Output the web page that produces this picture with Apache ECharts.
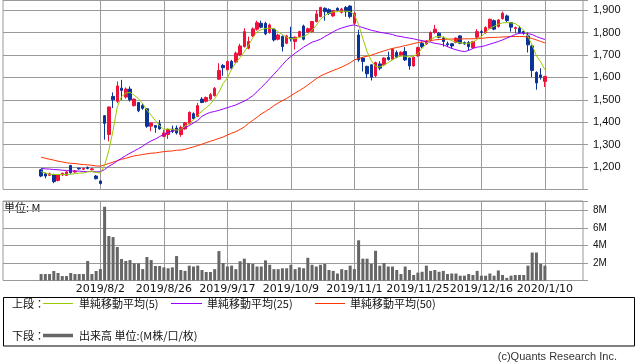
<!DOCTYPE html>
<html><head><meta charset="utf-8">
<script src="https://cdn.jsdelivr.net/npm/echarts@6/dist/echarts.min.js"></script>
<style>html,body{margin:0;padding:0;background:#fff}#c{width:638px;height:362px}</style>
</head><body><div id="c"></div>
<script>
const dates = ['2019/7/12','2019/7/16','2019/7/17','2019/7/18','2019/7/19','2019/7/22','2019/7/23','2019/7/24','2019/7/25','2019/7/26','2019/7/29','2019/7/30','2019/7/31','2019/8/1','2019/8/2','2019/8/5','2019/8/6','2019/8/7','2019/8/8','2019/8/9','2019/8/13','2019/8/14','2019/8/15','2019/8/16','2019/8/19','2019/8/20','2019/8/21','2019/8/22','2019/8/23','2019/8/26','2019/8/27','2019/8/28','2019/8/29','2019/8/30','2019/9/2','2019/9/3','2019/9/4','2019/9/5','2019/9/6','2019/9/9','2019/9/10','2019/9/11','2019/9/12','2019/9/13','2019/9/17','2019/9/18','2019/9/19','2019/9/20','2019/9/24','2019/9/25','2019/9/26','2019/9/27','2019/9/30','2019/10/1','2019/10/2','2019/10/3','2019/10/4','2019/10/7','2019/10/8','2019/10/9','2019/10/10','2019/10/11','2019/10/15','2019/10/16','2019/10/17','2019/10/18','2019/10/21','2019/10/23','2019/10/24','2019/10/25','2019/10/28','2019/10/29','2019/10/30','2019/10/31','2019/11/1','2019/11/5','2019/11/6','2019/11/7','2019/11/8','2019/11/11','2019/11/12','2019/11/13','2019/11/14','2019/11/15','2019/11/18','2019/11/19','2019/11/20','2019/11/21','2019/11/22','2019/11/25','2019/11/26','2019/11/27','2019/11/28','2019/11/29','2019/12/2','2019/12/3','2019/12/4','2019/12/5','2019/12/6','2019/12/9','2019/12/10','2019/12/11','2019/12/12','2019/12/13','2019/12/16','2019/12/17','2019/12/18','2019/12/19','2019/12/20','2019/12/23','2019/12/24','2019/12/25','2019/12/26','2019/12/27','2019/12/30','2020/1/6','2020/1/7','2020/1/8','2020/1/9','2020/1/10'];

const labelDates = ['2019/8/2','2019/8/26','2019/9/17','2019/10/9','2019/11/1','2019/11/25','2019/12/16','2020/1/10'];

const opens  = [1188,1170,1163,1167,1140,1165,1163,1207,1178,1195, 1190,1198,1188,1160,1138,1429,1345,1515,1493,1552, 1512,1548,1474,1488,1475,1460,1382,1385,1393,1337, 1345,1370,1374,1345,1370,1394,1438,1426,1503,1493, 1503,1518,1592,1653,1634,1671,1668,1700,1737,1730, 1785,1815,1841,1841,1800,1815,1770,1782,1752,1778, 1760,1782,1829,1802,1804,1849,1871,1908,1902,1874, 1908,1890,1912,1918,1841,1789,1686,1649,1656,1607, 1660,1656,1689,1681,1711,1700,1715,1686,1651,1696, 1752,1750,1764,1800,1797,1775,1750,1750,1756,1785, 1755,1755,1733,1779,1804,1800,1819,1853,1827,1862, 1874,1844,1818,1819,1805,1785,1740,1622,1611,1582];
const closes = [1160,1160,1170,1135,1165,1172,1178,1175,1183,1192, 1194,1194,1192,1148,1127,1395,1468,1500,1562,1542, 1548,1500,1503,1451,1462,1382,1397,1377,1370,1352, 1367,1359,1352,1377,1397,1444,1416,1474,1488,1510, 1523,1551,1631,1643,1671,1641,1708,1740,1804,1760, 1816,1844,1824,1794,1834,1767,1789,1737,1785,1772, 1779,1804,1770,1817,1849,1883,1912,1893,1885,1897, 1900,1905,1893,1871,1886,1678,1671,1616,1601,1666, 1641,1686,1680,1726,1690,1712,1678,1651,1690,1733, 1737,1762,1800,1815,1779,1760,1745,1740,1775,1752, 1749,1737,1760,1804,1800,1822,1859,1815,1856,1886, 1853,1824,1822,1800,1797,1745,1631,1575,1600,1604];
const lows   = [1155,1150,1160,1128,1136,1160,1160,1170,1175,1188, 1186,1190,1185,1145,1122,1322,1315,1463,1485,1500, 1505,1492,1470,1445,1455,1375,1360,1353,1367,1333, 1325,1352,1345,1335,1367,1390,1412,1422,1485,1488, 1500,1515,1588,1607,1630,1634,1663,1695,1734,1725, 1780,1808,1819,1788,1795,1760,1765,1715,1748,1760, 1724,1778,1765,1798,1800,1845,1868,1853,1878,1870, 1895,1885,1870,1863,1835,1670,1626,1597,1586,1600, 1632,1650,1675,1678,1685,1695,1673,1634,1648,1692, 1730,1745,1760,1795,1774,1737,1735,1728,1752,1748, 1745,1720,1728,1775,1785,1795,1815,1810,1822,1858, 1846,1804,1795,1795,1790,1711,1601,1545,1590,1557];
const highs  = [1192,1175,1175,1170,1168,1175,1182,1210,1187,1198, 1198,1203,1196,1165,1140,1432,1470,1533,1582,1589, 1555,1560,1506,1490,1483,1463,1398,1388,1410,1365, 1372,1385,1385,1385,1400,1448,1444,1486,1512,1515, 1530,1557,1663,1660,1675,1678,1715,1750,1819,1782, 1823,1853,1853,1848,1840,1820,1795,1787,1790,1826, 1782,1808,1835,1822,1852,1900,1915,1912,1908,1900, 1912,1910,1918,1922,1890,1812,1690,1652,1658,1670, 1672,1690,1715,1730,1720,1716,1735,1690,1693,1737, 1760,1766,1805,1834,1802,1782,1760,1752,1778,1788, 1760,1762,1763,1815,1812,1828,1862,1858,1860,1893, 1880,1847,1826,1830,1808,1800,1745,1627,1641,1607];

const ma5  = [1180,1174,1167,1167,1167,1167,1167,1168,1171,1173, 1174,1179,1180,1176,1173,1208,1274,1364,1468,1514, 1530,1533,1520,1505,1483,1454,1431,1407,1383,1368, 1370,1367,1365,1367,1382,1394,1411,1431,1450,1465, 1481,1505,1534,1573,1598,1637,1665,1689,1714,1743, 1776,1803,1813,1818,1819,1818,1803,1791,1779,1772, 1773,1778,1782,1792,1810,1832,1859,1875,1886,1892, 1893,1895,1895,1893,1880,1835,1773,1715,1674,1649, 1646,1655,1666,1678,1690,1695,1695,1690,1696,1705, 1730,1751,1769,1780,1783,1779,1772,1764,1757,1754, 1752,1752,1758,1769,1783,1800,1819,1828,1837,1843, 1844,1843,1840,1826,1810,1782,1743,1696,1669,1634];
const ma25 = [1194,1192,1191,1189,1188,1186,1185,1183,1182,1182, 1180,1180,1180,1179,1179,1189,1204,1214,1228,1239, 1251,1262,1272,1282,1293,1306,1317,1325,1336,1346, 1354,1360,1365,1370,1376,1385,1397,1408,1426,1437, 1444,1448,1453,1459,1465,1471,1477,1486,1494,1505, 1518,1536,1555,1573,1594,1614,1635,1656,1677,1693, 1708,1721,1735,1746,1757,1763,1770,1782,1792,1803, 1813,1820,1826,1831,1834,1828,1822,1816,1810,1806, 1801,1798,1795,1791,1785,1782,1778,1775,1772,1767, 1764,1760,1757,1752,1749,1745,1737,1729,1723,1718, 1715,1720,1729,1735,1737,1742,1748,1754,1760,1767, 1775,1783,1791,1797,1797,1795,1791,1782,1775,1769];
const ma50 = [1244,1239,1235,1231,1226,1223,1219,1217,1216,1213, 1211,1210,1208,1205,1204,1210,1216,1222,1228,1235, 1239,1245,1250,1253,1256,1259,1262,1263,1266,1269, 1271,1272,1275,1276,1279,1285,1290,1296,1302,1309, 1315,1321,1328,1334,1343,1351,1358,1368,1379,1395, 1408,1422,1437,1448,1460,1474,1486,1496,1506,1518, 1530,1541,1553,1566,1580,1594,1606,1615,1623,1631, 1638,1646,1655,1665,1678,1684,1690,1694,1699,1706, 1712,1718,1724,1729,1733,1737,1742,1746,1751,1755, 1758,1761,1764,1767,1769,1770,1770,1771,1771,1771, 1772,1772,1772,1773,1774,1776,1778,1778,1779,1780, 1781,1782,1782,1782,1782,1779,1773,1767,1760,1754];

const volumes = [0.74,0.74,0.74,1.09,0.86,0.51,0.51,0.86,0.74,0.74, 0.74,2.23,0.74,1.09,1.31,8.44,5.09,4.97,3.83,2.46, 2.23,2.34,1.96,1.96,1.31,2.69,2.34,1.66,1.66,1.5, 1.4,1.5,2.8,1.2,1.1,1.7,1.6,1.7,1.2,0.97, 0.97,1.3,3.37,2.0,1.6,1.7,1.3,2.2,2.5,2.0, 1.9,1.6,1.6,2.3,1.8,1.3,1.3,1.4,1.4,1.8, 1.3,1.5,1.4,2.6,1.8,1.6,1.8,1.9,1.2,1.1, 0.8,1.3,1.2,1.7,1.3,4.6,2.5,2.5,1.9,3.4, 1.7,2.0,1.6,1.6,1.2,0.74,1.6,1.2,0.63,0.9, 1.0,1.7,1.1,1.2,1.0,1.1,0.74,0.8,0.8,0.55, 0.55,0.74,0.63,1.1,0.55,0.55,0.8,0.55,1.15,0.63, 0.3,0.55,0.63,0.63,0.63,1.7,3.2,3.2,1.9,1.7];

const PAD = 9;
const cats = [];
for (let i = 0; i < PAD; i++) cats.push('L' + i);
dates.forEach(d => cats.push(d));
for (let i = 0; i < PAD; i++) cats.push('R' + i);
const padArr = (arr, fill) => Array(PAD).fill(fill).concat(arr, Array(PAD).fill(fill));
const candle = padArr(dates.map((d, i) => [opens[i], closes[i], lows[i], highs[i]]), ['-', '-', '-', '-']);
const labelSet = new Set(labelDates);
const isLabel = (idx, val) => labelSet.has(val === undefined ? cats[idx] : val);
const comma = v => String(v).replace(/\B(?=(\d{3})+(?!\d))/g, ',');

const GRID = '#9a9a9a';
const UP = '#f0103c', DOWN = '#0b3499';
const C5 = '#99cc00', C25 = '#9900ff', C50 = '#ff3300';

const chart = echarts.init(document.getElementById('c'), null, {renderer: 'canvas'});
chart.setOption({
  animation: false,
  backgroundColor: '#fff',
  grid: [
    {left: 3, top: 0, width: 580, height: 189.5, show: true, borderColor: GRID, borderWidth: 1},
    {left: 3, top: 201, width: 580, height: 79.5, show: true, borderColor: GRID, borderWidth: 1}
  ],
  xAxis: [
    {type: 'category', gridIndex: 0, data: cats, boundaryGap: false,
     axisLine: {show: false}, axisTick: {show: false}, axisLabel: {show: false},
     splitLine: {show: true, interval: isLabel, lineStyle: {color: GRID, width: 1}}},
    {type: 'category', gridIndex: 1, data: cats, boundaryGap: false,
     axisLine: {show: false}, axisTick: {show: false},
     axisLabel: {show: true, interval: isLabel, showMinLabel: true, showMaxLabel: true, hideOverlap: false, margin: 3,
                 fontFamily: 'DejaVu Sans', fontSize: 11, color: '#111'},
     splitLine: {show: true, interval: isLabel, lineStyle: {color: GRID, width: 1}}}
  ],
  yAxis: [
    {type: 'value', gridIndex: 0, position: 'right', min: 1100, max: 1945, interval: 100,
     axisLine: {show: false}, axisTick: {show: true, length: 5, lineStyle: {color: GRID}},
     axisLabel: {margin: 10, fontFamily: 'Liberation Sans', fontSize: 11, color: '#111',
       formatter: v => (v >= 1200 && v <= 1900 && v % 100 === 0) ? comma(v) : ''},
     splitLine: {show: true, lineStyle: {color: GRID, width: 1}}},
    {type: 'value', gridIndex: 1, position: 'right', min: 0, max: 9.1, interval: 2,
     axisLine: {show: false}, axisTick: {show: true, length: 5, lineStyle: {color: GRID}},
     axisLabel: {margin: 10, fontFamily: 'Liberation Sans', fontSize: 10, color: '#111',
       formatter: v => (v > 0 && v <= 8 && v % 2 === 0) ? v + 'M' : ''},
     splitLine: {show: true, lineStyle: {color: GRID, width: 1}}}
  ],
  series: [
    {type: 'candlestick', xAxisIndex: 0, yAxisIndex: 0, data: candle, barWidth: 3, z: 2,
     itemStyle: {color: UP, color0: DOWN, borderColor: UP, borderColor0: DOWN, borderWidth: 1}},
    {type: 'line', xAxisIndex: 0, yAxisIndex: 0, data: padArr(ma50, '-'), showSymbol: false, symbol: 'none', z: 3,
     lineStyle: {color: C50, width: 1}},
    {type: 'line', xAxisIndex: 0, yAxisIndex: 0, data: padArr(ma25, '-'), showSymbol: false, symbol: 'none', z: 3,
     lineStyle: {color: C25, width: 1}},
    {type: 'line', xAxisIndex: 0, yAxisIndex: 0, data: padArr(ma5, '-'), showSymbol: false, symbol: 'none', z: 4,
     lineStyle: {color: C5, width: 1}},
    {type: 'bar', xAxisIndex: 1, yAxisIndex: 1, data: padArr(volumes, '-'), barWidth: 3,
     itemStyle: {color: '#666666'}}
  ],
  graphic: {elements: [
    {type: 'text', left: 4, top: 202, style: {text: '単位: M', font: '11px "Noto Sans CJK JP"', fill: '#111'}},
    {type: 'rect', shape: {x: 3.5, y: 297.5, width: 631, height: 48.5}, style: {fill: null, stroke: '#000', lineWidth: 1}},
    {type: 'text', x: 12, y: 303.5, style: {text: '上段：', font: '11px "Noto Sans CJK JP"', fill: '#111', textVerticalAlign: 'middle'}},
    {type: 'line', shape: {x1: 43, y1: 303.5, x2: 73, y2: 303.5}, style: {stroke: C5, lineWidth: 1}},
    {type: 'text', x: 79, y: 303.5, style: {text: '単純移動平均(5)', font: '11px "Noto Sans CJK JP"', fill: '#111', textVerticalAlign: 'middle'}},
    {type: 'line', shape: {x1: 171, y1: 303.5, x2: 202, y2: 303.5}, style: {stroke: C25, lineWidth: 1}},
    {type: 'text', x: 207, y: 303.5, style: {text: '単純移動平均(25)', font: '11px "Noto Sans CJK JP"', fill: '#111', textVerticalAlign: 'middle'}},
    {type: 'line', shape: {x1: 315, y1: 303.5, x2: 345, y2: 303.5}, style: {stroke: C50, lineWidth: 1}},
    {type: 'text', x: 350, y: 303.5, style: {text: '単純移動平均(50)', font: '11px "Noto Sans CJK JP"', fill: '#111', textVerticalAlign: 'middle'}},
    {type: 'text', x: 12, y: 335.5, style: {text: '下段：', font: '11px "Noto Sans CJK JP"', fill: '#111', textVerticalAlign: 'middle'}},
    {type: 'line', shape: {x1: 43, y1: 335.5, x2: 73, y2: 335.5}, style: {stroke: '#666666', lineWidth: 3.5}},
    {type: 'text', x: 79, y: 335.5, style: {text: '出来高 単位:(M株/口/枚)', font: '11px "Noto Sans CJK JP"', fill: '#111', textVerticalAlign: 'middle'}},
    {type: 'text', x: 617, y: 357, style: {text: '(c)Quants Research Inc.', font: '11px "Liberation Sans"', fill: '#333', textAlign: 'right', textVerticalAlign: 'middle'}}
  ]}
});
</script>
</body></html>
